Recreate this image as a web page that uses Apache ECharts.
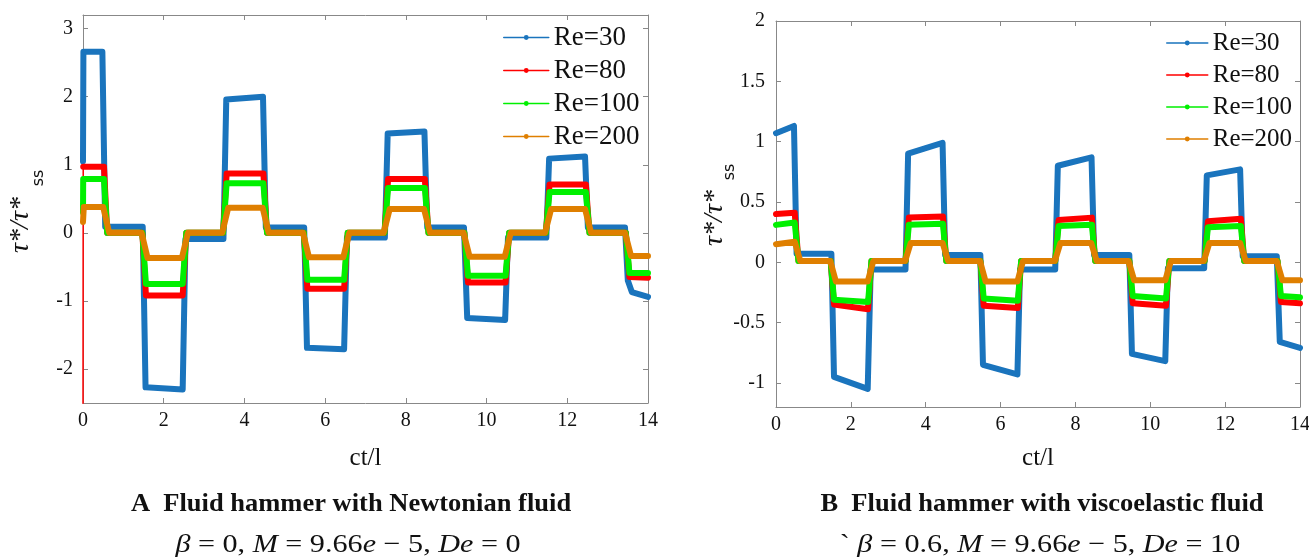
<!DOCTYPE html>
<html>
<head>
<meta charset="utf-8">
<script src="https://cdn.jsdelivr.net/npm/echarts@6/dist/echarts.min.js"></script>
<style>html,body{margin:0;padding:0;background:#fff;}#c{width:1309px;height:558px;}</style>
</head>
<body>
<div id="c"></div>
<script>
// ---------- data ----------
var seriesNames = ['Re=30', 'Re=80', 'Re=100', 'Re=200'];
var xTicks = [0, 2, 4, 6, 8, 10, 12, 14];
var yTicksA = [-2, -1, 0, 1, 2, 3];
var yTicksB = [-1, -0.5, 0, 0.5, 1, 1.5, 2];

// Panel A (Newtonian)
var a30 = [[0,1.05],[0.01,2.66],[0.48,2.66],[0.55,0.09],[1.48,0.09],[1.55,-2.27],[2.47,-2.30],[2.54,-0.09],
  [3.48,-0.09],[3.55,1.96],[4.46,2.00],[4.53,0.08],[5.48,0.08],[5.55,-1.69],[6.47,-1.71],[6.54,-0.07],
  [7.48,-0.07],[7.55,1.46],[8.46,1.49],[8.53,0.08],[9.44,0.08],[9.52,-1.25],[10.46,-1.28],[10.53,-0.07],
  [11.48,-0.07],[11.55,1.09],[12.44,1.12],[12.51,0.08],[13.43,0.08],[13.5,-0.7],[13.6,-0.87],[14,-0.94]];
var a80start = [[0,-2.6],[0.005,0.97]];
var a80 = [[0.005,0.97],[0.52,0.97],[0.6,0],[1.47,0],[1.56,-0.92],[2.47,-0.92],[2.56,0],
  [3.47,0],[3.56,0.87],[4.47,0.87],[4.56,0],[5.47,0],[5.56,-0.82],[6.47,-0.82],[6.56,0],
  [7.47,0],[7.56,0.79],[8.47,0.79],[8.56,0],[9.45,0],[9.54,-0.73],[10.47,-0.73],[10.56,0],
  [11.47,0],[11.56,0.71],[12.46,0.71],[12.55,0],[13.45,0],[13.54,-0.65],[14,-0.66]];
var a100 = [[0,0.3],[0.005,0.79],[0.52,0.79],[0.6,0],[1.47,0],[1.56,-0.75],[2.47,-0.75],[2.56,0],
  [3.47,0],[3.56,0.73],[4.47,0.73],[4.56,0],[5.47,0],[5.56,-0.69],[6.47,-0.69],[6.56,0],
  [7.47,0],[7.56,0.66],[8.47,0.66],[8.56,0],[9.45,0],[9.54,-0.63],[10.47,-0.63],[10.56,0],
  [11.47,0],[11.56,0.60],[12.46,0.60],[12.55,0],[13.45,0],[13.54,-0.59],[14,-0.59]];
var a200 = [[0,0.16],[0.02,0.38],[0.5,0.38],[0.65,0],[1.45,0],[1.6,-0.37],[2.45,-0.37],[2.6,0],
  [3.45,0],[3.6,0.37],[4.45,0.37],[4.6,0],[5.45,0],[5.6,-0.36],[6.45,-0.36],[6.6,0],
  [7.45,0],[7.6,0.35],[8.45,0.35],[8.6,0],[9.43,0],[9.58,-0.35],[10.45,-0.35],[10.6,0],
  [11.45,0],[11.6,0.35],[12.44,0.35],[12.59,0],[13.43,0],[13.58,-0.34],[14,-0.34]];

// Panel B (viscoelastic)
var b30 = [[0,1.07],[0.48,1.13],[0.55,0.07],[1.48,0.07],[1.55,-0.95],[2.45,-1.05],[2.53,-0.06],
  [3.46,-0.06],[3.53,0.90],[4.45,0.99],[4.52,0.06],[5.46,0.06],[5.53,-0.85],[6.45,-0.93],[6.52,-0.06],
  [7.46,-0.06],[7.53,0.80],[8.43,0.87],[8.5,0.06],[9.44,0.06],[9.51,-0.76],[10.4,-0.82],[10.47,-0.05],
  [11.44,-0.05],[11.51,0.72],[12.4,0.77],[12.47,0.05],[13.38,0.05],[13.46,-0.66],[14,-0.71]];
var b80 = [[0,0.40],[0.5,0.41],[0.6,0.01],[1.46,0.01],[1.55,-0.35],[2.46,-0.39],[2.55,0.01],
  [3.46,0.01],[3.55,0.37],[4.46,0.38],[4.55,0.01],[5.46,0.01],[5.55,-0.36],[6.46,-0.38],[6.55,0.01],
  [7.46,0.01],[7.55,0.35],[8.44,0.37],[8.53,0.01],[9.44,0.01],[9.53,-0.34],[10.42,-0.36],[10.51,0.01],
  [11.45,0.01],[11.54,0.34],[12.42,0.36],[12.51,0.01],[13.4,0.01],[13.49,-0.33],[14,-0.34]];
var b100 = [[0,0.31],[0.5,0.33],[0.6,0.01],[1.46,0.01],[1.55,-0.31],[2.46,-0.33],[2.55,0.01],
  [3.46,0.01],[3.55,0.31],[4.46,0.32],[4.55,0.01],[5.46,0.01],[5.55,-0.30],[6.46,-0.32],[6.55,0.01],
  [7.46,0.01],[7.55,0.30],[8.44,0.31],[8.53,0.01],[9.44,0.01],[9.53,-0.28],[10.42,-0.30],[10.51,0.01],
  [11.45,0.01],[11.54,0.29],[12.42,0.30],[12.51,0.01],[13.4,0.01],[13.49,-0.28],[14,-0.29]];
var b200 = [[0,0.15],[0.5,0.17],[0.65,0.01],[1.45,0.01],[1.6,-0.16],[2.45,-0.16],[2.6,0.01],
  [3.45,0.01],[3.6,0.16],[4.45,0.16],[4.6,0.01],[5.45,0.01],[5.6,-0.16],[6.45,-0.16],[6.6,0.01],
  [7.45,0.01],[7.6,0.16],[8.42,0.16],[8.57,0.01],[9.42,0.01],[9.57,-0.15],[10.4,-0.15],[10.55,0.01],
  [11.43,0.01],[11.58,0.16],[12.4,0.16],[12.55,0.01],[13.38,0.01],[13.53,-0.15],[14,-0.15]];

// ---------- styling ----------
var colors = ['#1A74BD', '#FF0000', '#00F000', '#DF7F00'];
var FONT = 'Liberation Serif';
var frameColor = '#888888';

function xAx(grid, pos, labels, gap) {
  return {
    type: 'value', gridIndex: grid, position: pos, min: 0, max: 14, interval: 2,
    axisLine: { show: true, onZero: false, lineStyle: { color: frameColor, width: 1 } },
    axisTick: { show: true, inside: true, length: 5, lineStyle: { color: frameColor } },
    axisLabel: { show: labels, color: '#111', fontFamily: FONT, fontSize: 20, margin: 8 },
    splitLine: { show: false },
    name: labels ? 'ct/l' : '', nameLocation: 'middle', nameGap: gap || 40,
    nameTextStyle: { color: '#111', fontFamily: FONT, fontSize: 25 }
  };
}
function yAx(grid, pos, labels, mn, mx, ticks, margin) {
  return {
    type: 'value', gridIndex: grid, position: pos, min: mn, max: mx,
    axisLine: { show: true, onZero: false, lineStyle: { color: frameColor, width: 1 } },
    axisTick: { show: true, inside: true, length: 5, customValues: ticks, lineStyle: { color: frameColor } },
    axisLabel: { show: labels, customValues: ticks, color: '#111', fontFamily: FONT, fontSize: 20, margin: margin },
    splitLine: { show: false }
  };
}
function ser(name, data, xi, yi, ci, w) {
  return {
    name: name, type: 'line', data: data, xAxisIndex: xi, yAxisIndex: yi,
    symbol: 'circle', symbolSize: 5, showSymbol: false,
    lineStyle: { color: colors[ci], width: w || 6, join: 'round', cap: 'round' },
    itemStyle: { color: colors[ci] }, z: 2 + ci, clip: true, silent: true
  };
}
function legendAt(left, top, fs, w) {
  return {
    data: seriesNames, orient: 'vertical', left: left, top: top, itemWidth: w, itemHeight: 6,
    itemGap: 6, padding: 0, selectedMode: false,
    lineStyle: { width: 1.5 }, itemStyle: {},
    textStyle: { color: '#111', fontFamily: FONT, fontSize: fs, lineHeight: 26, padding: [0, 0, 0, 0] }
  };
}
function mathText(str, x, y) {
  return { type: 'text', x: x, y: y, scaleX: 1.16,
    style: { text: str, font: '26px ' + FONT, fill: '#111', align: 'center', verticalAlign: 'middle',
      rich: { i: { fontStyle: 'italic', fontFamily: FONT, fontSize: 26, fill: '#111' } } } };
}

var option = {
  animation: false,
  backgroundColor: '#ffffff',
  grid: [
    { left: 83, top: 15, width: 565, height: 388, outerBoundsMode: 'none' },
    { left: 776, top: 21, width: 524, height: 386, outerBoundsMode: 'none' }
  ],
  xAxis: [xAx(0, 'bottom', true, 43), xAx(0, 'top', false), xAx(1, 'bottom', true, 39), xAx(1, 'top', false)],
  yAxis: [
    yAx(0, 'left', true, -2.5, 3.2, yTicksA, 10), yAx(0, 'right', false, -2.5, 3.2, yTicksA, 10),
    yAx(1, 'left', true, -1.2, 2, yTicksB, 11), yAx(1, 'right', false, -1.2, 2, yTicksB, 11)
  ],
  legend: [legendAt(503, 24, 27, 45), legendAt(1166, 30, 25, 41)],
  series: [
    ser(seriesNames[0], a30, 0, 0, 0), ser(seriesNames[1], a80start, 0, 0, 1, 1.5), ser(seriesNames[1], a80, 0, 0, 1),
    ser(seriesNames[2], a100, 0, 0, 2), ser(seriesNames[3], a200, 0, 0, 3),
    ser(seriesNames[0], b30, 2, 2, 0), ser(seriesNames[1], b80, 2, 2, 1),
    ser(seriesNames[2], b100, 2, 2, 2), ser(seriesNames[3], b200, 2, 2, 3)
  ],
  graphic: [
    { type: 'text', x: 21, y: 225, rotation: Math.PI / 2,
      style: { text: 'τ*/τ*', font: 'italic 28px ' + FONT, fill: '#111', align: 'center', verticalAlign: 'middle' } },
    { type: 'text', x: 39, y: 178, rotation: Math.PI / 2,
      style: { text: 'ss', font: '16px DejaVu Sans', fill: '#111', align: 'center', verticalAlign: 'middle' } },
    { type: 'text', x: 715, y: 218, rotation: Math.PI / 2,
      style: { text: 'τ*/τ*', font: 'italic 28px ' + FONT, fill: '#111', align: 'center', verticalAlign: 'middle' } },
    { type: 'text', x: 730, y: 172, rotation: Math.PI / 2,
      style: { text: 'ss', font: '16px DejaVu Sans', fill: '#111', align: 'center', verticalAlign: 'middle' } },
    { type: 'text', x: 351, y: 505, scaleX: 1.06,
      style: { text: 'A  Fluid hammer with Newtonian fluid', font: 'bold 25px ' + FONT, fill: '#111', align: 'center', verticalAlign: 'middle' } },
    { type: 'text', x: 1042, y: 505, scaleX: 1.06,
      style: { text: 'B  Fluid hammer with viscoelastic fluid', font: 'bold 25px ' + FONT, fill: '#111', align: 'center', verticalAlign: 'middle' } },
    mathText('{i|β} = 0, {i|M} = 9.66{i|e} − 5, {i|De} = 0', 348, 545),
    mathText('` {i|β} = 0.6, {i|M} = 9.66{i|e} − 5, {i|De} = 10', 1040, 545)
  ]
};
var chart = echarts.init(document.getElementById('c'), null, { renderer: 'canvas' });
chart.setOption(option);
</script>
</body>
</html>
